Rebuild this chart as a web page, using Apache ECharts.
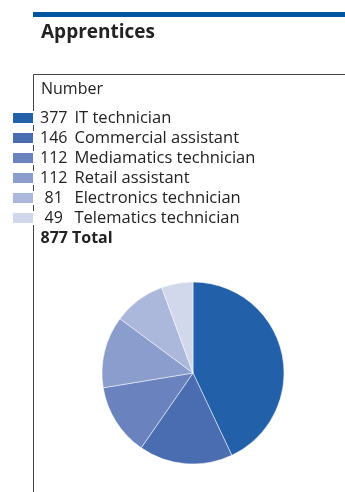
<!DOCTYPE html>
<html><head><meta charset="utf-8">
<script src="https://cdn.jsdelivr.net/npm/echarts@6/dist/echarts.min.js"></script>
<style>html,body{margin:0;padding:0;background:#fff}#c{width:345px;height:492px}</style>
</head><body><div id="c"></div>
<script>
const categories = ['IT technician','Commercial assistant','Mediamatics technician','Retail assistant','Electronics technician','Telematics technician'];
const values = [377,146,112,112,81,49];
const total = 877;
const colors = ['#2260a9','#4a6cb0','#6a82bd','#8a9dcc','#abb7db','#d2d8ec'];
const FONT = '"Open Sans", sans-serif';

const chart = echarts.init(document.getElementById('c'), null, {renderer:'canvas'});
chart.setOption({
  animation:false,
  color: colors,
  legend:{
    orient:'vertical', left:11, top:108, padding:0, itemWidth:22, itemHeight:12, itemGap:0,
    icon:'rect', selectedMode:false,
    data: categories,
    formatter: function(name){ const i = categories.indexOf(name); return '{n|'+values[i]+'}{l|'+name+'}'; },
    textStyle:{ color:'#222', fontFamily:FONT, fontSize:16, lineHeight:20,
      rich:{ n:{width:29.5, align:'right', fontFamily:FONT, fontSize:16, lineHeight:20, color:'#222'},
             l:{padding:[0,0,0,6], fontFamily:FONT, fontSize:16.5, lineHeight:20, color:'#222'} } }
  },
  graphic:[
    {type:'rect', shape:{x:33,y:12,width:312,height:5}, style:{fill:'#0055a0'}},
    {type:'text', x:41, y:32.5, style:{text:'Apprentices', font:'bold 19px '+FONT, fill:'#222', verticalAlign:'middle'}},
    {type:'line', shape:{x1:33.5,y1:74.5,x2:345,y2:74.5}, style:{stroke:'#444', lineWidth:1}},
    {type:'line', shape:{x1:33.5,y1:74.5,x2:33.5,y2:492}, style:{stroke:'#444', lineWidth:1}},
    {type:'text', x:41, y:89, style:{text:'Number', font:'16px '+FONT, fill:'#222', verticalAlign:'middle'}},
    {type:'text', x:68, y:238, style:{text:String(total), font:'bold 16px '+FONT, fill:'#222', align:'right', verticalAlign:'middle'}},
    {type:'text', x:72, y:238, style:{text:'Total', font:'bold 16px '+FONT, fill:'#222', verticalAlign:'middle'}}
  ],
  series:[{
    type:'pie', center:[193,373], radius:91, startAngle:90, clockwise:true,
    label:{show:false}, labelLine:{show:false}, silent:true,
    itemStyle:{borderColor:'#fff', borderWidth:0.5},
    data: categories.map((c,i)=>({name:c, value:values[i]}))
  }]
});
</script></body></html>
